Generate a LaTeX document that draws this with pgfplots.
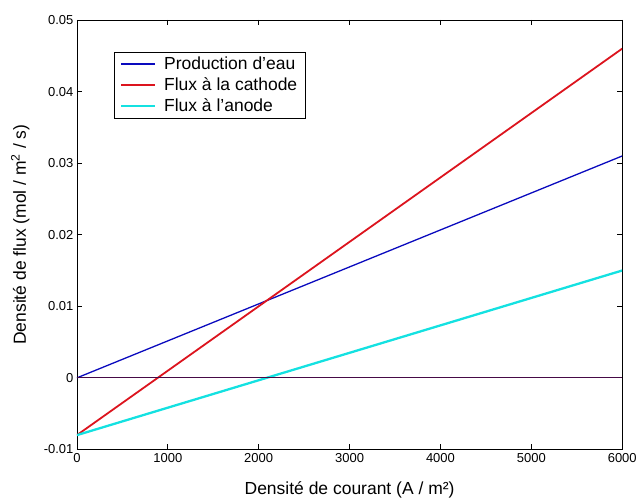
\documentclass[border=0pt]{standalone}
\usepackage{fontspec}
\setmainfont{Liberation Sans}
\usepackage{pgfplots}
\pgfplotsset{compat=1.18}
\definecolor{prodblue}{RGB}{10,10,190}
\definecolor{cathred}{RGB}{220,20,30}
\definecolor{anodecyan}{RGB}{20,225,225}
\definecolor{zeroline}{RGB}{70,10,70}
\begin{document}
\begin{tikzpicture}
\begin{axis}[
    scale only axis,
    width=546pt, height=430pt,
    xmin=0, xmax=6000,
    ymin=-0.01, ymax=0.05,
    scaled y ticks=false,
    xtick={0,1000,2000,3000,4000,5000,6000},
    xticklabels={0,1000,2000,3000,4000,5000,6000},
    ytick={-0.01,0,0.01,0.02,0.03,0.04,0.05},
    yticklabels={-0.01,0,0.01,0.02,0.03,0.04,0.05},
    tick align=inside,
    major tick length=5pt,
    tick style={black, line width=0.8pt},
    axis line style={black, line width=0.8pt},
    ticklabel style={font=\fontsize{13}{13}\selectfont},
    xlabel={Densité de courant (A / m²)},
    ylabel={Densité de flux (mol / m\textsuperscript{2} / s)},
    label style={font=\fontsize{17.5}{17.5}\selectfont},
    xlabel style={at={(axis description cs:0.5,0)}, anchor=center, yshift=-40pt},
    ylabel style={at={(axis description cs:-0.104,0.5)}, anchor=center},
    legend style={at={(rel axis cs:0.068,0.926)}, anchor=north west,
        draw=black, line width=1pt, font=\fontsize{17.5}{18}\selectfont,
        inner xsep=6pt, inner ysep=3pt, row sep=2.5pt, column sep=6pt},
    legend cell align=left,
    legend image code/.code={\draw[#1, line width=1.7pt] (0pt,0pt) -- (34pt,0pt);},
]
\addplot[prodblue, line width=1.3pt] coordinates {(0,0) (6000,0.031)};
\addlegendentry{Production d'eau}
\addplot[cathred, line width=1.8pt] coordinates {(0,-0.008) (6000,0.046)};
\addlegendentry{Flux à la cathode}
\addplot[anodecyan, line width=2.3pt] coordinates {(0,-0.008) (6000,0.015)};
\addlegendentry{Flux à l'anode}
\addplot[zeroline, line width=1.2pt, forget plot] coordinates {(0,0) (6000,0)};
\end{axis}
\path (-77pt,-51pt) rectangle (563pt,450pt);
\end{tikzpicture}
\end{document}
